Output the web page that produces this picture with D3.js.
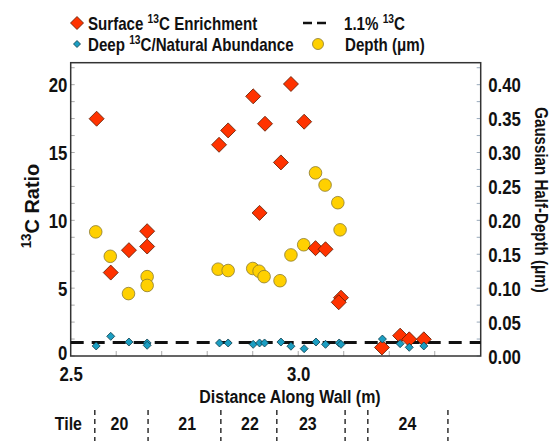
<!DOCTYPE html>
<html><head><meta charset="utf-8">
<script src="https://cdn.jsdelivr.net/npm/d3@7"></script>
<style>
body{margin:0;background:#fff;}
svg text{font-family:"Liberation Sans",Arial,Helvetica,sans-serif;font-weight:bold;fill:#111;}
</style></head>
<body><svg id="c" width="555" height="441"></svg>
<script>
// Surface 13C enrichment (x = distance along wall in m, ratio)
const surfaceX = [2.557,2.588,2.628,2.668,2.668,2.826,2.846,2.901,2.927,2.915,2.962,2.984,3.013,3.038,3.060,3.094,3.089,3.184,3.224,3.244,3.276];
const surfaceY = [17.49,6.15,7.80,9.20,8.07,15.57,16.63,19.14,17.12,10.55,14.27,20.05,17.27,7.95,7.87,4.30,3.96,0.63,1.50,1.23,1.23];
// Deep 13C / natural abundance
const deepX = [2.556,2.588,2.628,2.668,2.668,2.827,2.846,2.901,2.915,2.926,2.962,2.984,3.013,3.039,3.060,3.090,3.094,3.185,3.224,3.244,3.276];
const deepY = [0.74,1.45,1.03,0.96,0.79,0.96,0.96,0.86,0.96,0.96,1.03,0.72,0.54,1.03,0.86,0.96,0.86,1.25,0.91,0.64,0.74];
// Gaussian half-depth (um)
const depthX = [2.555,2.587,2.627,2.668,2.668,2.824,2.846,2.900,2.914,2.925,2.960,2.984,3.012,3.038,3.059,3.087,3.092];
const depthY = [0.183,0.147,0.092,0.117,0.104,0.128,0.126,0.129,0.125,0.117,0.111,0.149,0.164,0.270,0.252,0.226,0.186];
// reference line (natural abundance 1.1% 13C)
const refRatio = 1.0;
// axis ticks
const leftTicks = [0,5,10,15,20];
const rightTicks = [0,0.05,0.10,0.15,0.20,0.25,0.30,0.35,0.40];
const xTicks = [2.5,3.0];
// tiles
const tileBounds = [2.553,2.670,2.830,2.953,3.103,3.153,3.329];
const tileNames = ["20","21","22","23","24"];
const tileLabelX = [2.607,2.756,2.894,3.021,3.240];

const SX = 0.84; // condensed look
const svg = d3.select("#c");
const L=70.7, R=480.7, T=62.7, B=356;
const x = d3.scaleLinear().domain([2.5,3.401]).range([L,R]);
const y = d3.scaleLinear().domain([0,21.62]).range([B,T]);
const yR = d3.scaleLinear().domain([0,0.4324]).range([B,T]);

function txt(parent, tx, ty, size, anchor, rot, sx){
  return parent.append("text")
    .attr("transform",`translate(${tx},${ty}) rotate(${rot||0}) scale(${sx||SX},1)`)
    .attr("text-anchor",anchor||"start").style("font-size",size+"px");
}
function addSup(t, parts, size){
  parts.forEach(p=>{
    if(p.sup){ t.append("tspan").attr("dy",-size*0.38).style("font-size",(size*0.68)+"px").text(p.t); }
    else if(p.after){ t.append("tspan").attr("dy",size*0.38).text(p.t); }
    else t.append("tspan").text(p.t);
  });
  return t;
}

// minor ticks
svg.append("g").selectAll("line").data(d3.range(0,21.6,1.25)).join("line")
  .attr("x1",L).attr("x2",L+4).attr("y1",d=>y(d)).attr("y2",d=>y(d))
  .attr("stroke","#aaa").attr("stroke-width",1);
svg.append("g").selectAll("line").data(d3.range(0,0.43,0.025)).join("line")
  .attr("x1",R-4).attr("x2",R).attr("y1",d=>yR(d)).attr("y2",d=>yR(d))
  .attr("stroke","#9ab").attr("stroke-width",1);
svg.append("g").selectAll("line").data(d3.range(2.6,3.4,0.1)).join("line")
  .attr("x1",d=>x(d)).attr("x2",d=>x(d)).attr("y1",B).attr("y2",B-5)
  .attr("stroke","#aaa").attr("stroke-width",1);

// axes
const gl = svg.append("g").attr("transform",`translate(${L},0)`)
  .call(d3.axisLeft(y).tickValues(leftTicks).tickSize(0).tickPadding(4).tickFormat(d3.format("d")));
const gr = svg.append("g").attr("transform",`translate(${R},0)`)
  .call(d3.axisRight(yR).tickValues(rightTicks).tickSize(0).tickPadding(9).tickFormat(d3.format(".2f")));
const gb = svg.append("g").attr("transform",`translate(0,${B})`)
  .call(d3.axisBottom(x).tickValues(xTicks).tickSize(0).tickPadding(11).tickFormat(d3.format(".1f")));
[gl,gr,gb].forEach(g=>{g.select(".domain").remove();
  g.selectAll("text").style("font-size","20px").attr("fill","#111").attr("transform",`scale(${SX},1)`);});
gl.selectAll("text").attr("dy",d=>d===0?"0.15em":"0.36em");
gr.selectAll("text").attr("dy","0.36em");
gb.selectAll("text").attr("dy","0.71em");

// frame
svg.append("rect").attr("x",L).attr("y",T).attr("width",R-L).attr("height",B-T)
  .attr("fill","none").attr("stroke","#333").attr("stroke-width",1.5);

// reference dashed line
svg.append("line").attr("x1",L).attr("x2",R).attr("y1",y(refRatio)).attr("y2",y(refRatio))
  .attr("stroke","#111").attr("stroke-width",3).attr("stroke-dasharray","13,8");

const diamond = s => `M0,${-s}L${s},0L0,${s}L${-s},0Z`;
const red="#ff3300", yel="#ffd000", blu="#1b9ec2";

// depth circles
svg.append("g").selectAll("circle").data(depthX).join("circle")
  .attr("cx",d=>x(d)).attr("cy",(d,i)=>yR(depthY[i])).attr("r",6.3)
  .attr("fill",yel).attr("stroke","#8a7a30").attr("stroke-width",0.8);
// surface diamonds
svg.append("g").selectAll("path").data(surfaceX).join("path")
  .attr("d",diamond(7.5)).attr("transform",(d,i)=>`translate(${x(d)},${y(surfaceY[i])})`)
  .attr("fill",red).attr("stroke","#5a1a00").attr("stroke-width",0.8);
// deep diamonds
svg.append("g").selectAll("path").data(deepX).join("path")
  .attr("d",diamond(4)).attr("transform",(d,i)=>`translate(${x(d)},${y(deepY[i])})`)
  .attr("fill",blu).attr("stroke","#0d3a48").attr("stroke-width",0.8);

// legend
const lg = svg.append("g");
lg.append("path").attr("d",diamond(6.5)).attr("transform","translate(77,23)").attr("fill",red).attr("stroke","#5a1a00").attr("stroke-width",0.8);
lg.append("path").attr("d",diamond(3.5)).attr("transform","translate(77,44)").attr("fill",blu).attr("stroke","#0d3a48").attr("stroke-width",0.8);
lg.append("line").attr("x1",303).attr("x2",326).attr("y1",23).attr("y2",23).attr("stroke","#111").attr("stroke-width",2.5).attr("stroke-dasharray","9,5");
lg.append("circle").attr("cx",318).attr("cy",44).attr("r",5.5).attr("fill",yel).attr("stroke","#8a7a30").attr("stroke-width",0.8);
addSup(txt(lg,88,30,18,"start",0,0.84),[{t:"Surface "},{t:"13",sup:true},{t:"C Enrichment",after:true}],18);
addSup(txt(lg,344,30,18,"start",0,0.84),[{t:"1.1% "},{t:"13",sup:true},{t:"C",after:true}],18);
addSup(txt(lg,88,51,18,"start",0,0.84),[{t:"Deep "},{t:"13",sup:true},{t:"C/Natural Abundance",after:true}],18);
txt(lg,345,51,18,"start",0,0.84).text("Depth (\u03bcm)");

// axis titles
const yl = txt(svg,39,206,21,"middle",-90,0.95);
yl.append("tspan").attr("dy",-8).style("font-size","14px").text("13");
yl.append("tspan").attr("dy",8).text("C Ratio");
txt(svg,535,200,18,"middle",90).text("Gaussian Half-Depth (\u03bcm)");
txt(svg,290,403,19,"middle").text("Distance Along Wall (m)");

// tile row
txt(svg,82,430,19,"end").text("Tile");
svg.append("g").selectAll("line").data(tileBounds).join("line")
  .attr("x1",d=>x(d)).attr("x2",d=>x(d)).attr("y1",410).attr("y2",441)
  .attr("stroke","#111").attr("stroke-width",1.3).attr("stroke-dasharray","5,4");
tileNames.forEach((n,i)=>txt(svg,x(tileLabelX[i]),430,19,"middle").text(n));
</script></body></html>
